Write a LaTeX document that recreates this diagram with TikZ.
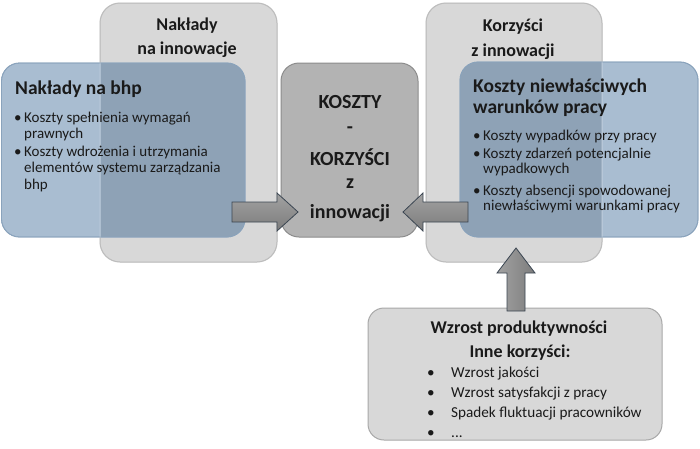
\documentclass[tikz,border=0pt]{standalone}
\usepackage{fontspec}
\setmainfont{Carlito}
\usetikzlibrary{calc}
\definecolor{boxgray}{HTML}{D8D8D8}
\definecolor{boxgrayline}{HTML}{A8A8A8}
\definecolor{midgray}{HTML}{B3B3B3}
\definecolor{midgrayline}{HTML}{8C8C8C}
\definecolor{blueA}{HTML}{A9BDD1}
\definecolor{blueB}{HTML}{8EA2B6}
\definecolor{blueline}{HTML}{8AA3BC}
\definecolor{arrowtop}{HTML}{A2A2A2}
\definecolor{arrowbot}{HTML}{7C7C7C}
\definecolor{arrowline}{HTML}{3B4652}
\definecolor{txt}{HTML}{1A1A1A}
\begin{document}
\begin{tikzpicture}[x=1pt,y=-1pt,
  graybox/.style={fill=boxgray,draw=boxgrayline,line width=1pt,rounded corners=20pt,inner sep=0pt},
  midbox/.style={fill=midgray,draw=midgrayline,line width=1pt,rounded corners=18pt,inner sep=0pt},
  bluebox/.style={fill=blueA,draw=blueline,line width=0.8pt,rounded corners=18pt,inner sep=0pt},
  blockarrow/.style={top color=arrowtop,bottom color=arrowbot,draw=arrowline,line width=0.8pt,line join=miter},
  hdtext/.style={inner sep=0pt,anchor=base,text=txt,font=\fontsize{18}{22}\selectfont\bfseries},
  titletext/.style={inner sep=0pt,anchor=base west,text=txt,font=\fontsize{19.5}{23}\selectfont\bfseries},
  centertext/.style={inner sep=0pt,anchor=base,text=txt,font=\fontsize{20}{24}\selectfont\bfseries},
  itemtext/.style={inner sep=0pt,anchor=base west,text=txt,font=\fontsize{15}{18}\selectfont},
  bottomtext/.style={inner sep=0pt,anchor=base west,text=txt,font=\fontsize{15.2}{18}\selectfont},
]
\useasboundingbox (0,0) rectangle (700,448);
\fill[white] (0,0) rectangle (700,448);

% gray background boxes
\node[graybox,minimum width=177pt,minimum height=259pt] (gl) at (188.5,132.5) {};
\node[graybox,minimum width=176pt,minimum height=259pt] (gr) at (514,132.5) {};

% blue boxes
\node[bluebox,minimum width=243.5pt,minimum height=174pt] (bl) at (123.25,150) {};
\node[bluebox,minimum width=238pt,minimum height=175pt] (br) at (579,149.5) {};
\begin{scope}
  \clip (100.5,0) rectangle (276.5,448);
  \fill[blueB,rounded corners=18pt] (1.5,63) rectangle (245,237);
\end{scope}
\begin{scope}
  \clip (426.5,0) rectangle (601.5,448);
  \fill[blueB,rounded corners=18pt] (460,62) rectangle (698,237);
\end{scope}
\draw[blueline,line width=0.8pt,rounded corners=18pt] (1.5,63) rectangle (245,237);
\draw[blueline,line width=0.8pt,rounded corners=18pt] (460,62) rectangle (698,237);
\draw[white,opacity=0.25,line width=1pt,rounded corners=20pt] (100,3) rectangle (277,262);
\draw[white,opacity=0.25,line width=1pt,rounded corners=20pt] (426,3) rectangle (602,262);

% center box
\node[midbox,minimum width=137pt,minimum height=174pt] (c) at (349.5,150) {};

% bottom box
\node[graybox,rounded corners=16pt,minimum width=294pt,minimum height=132pt] (b) at (515,374) {};

% block arrows
\coordinate (la) at (232,212);
\coordinate (ra) at (468,212);
\coordinate (ua) at (516,311);
\draw[blockarrow] ($(la)+(0,-10)$) -- ++(45,0) -- ++(0,-9) -- ++(21,19) -- ++(-21,19) -- ++(0,-9) -- ++(-45,0) -- cycle;
\draw[blockarrow] ($(ra)+(0,-10)$) -- ++(-45,0) -- ++(0,-9) -- ++(-20,19) -- ++(20,19) -- ++(0,-9) -- ++(45,0) -- cycle;
\draw[blockarrow,left color=arrowtop,right color=arrowbot] ($(ua)+(-9,0)$) -- ++(0,-38) -- ++(-10,0) -- ++(19,-25) -- ++(19,25) -- ++(-10,0) -- ++(0,38) -- cycle;

% header texts
\node[hdtext] (h1) at (187,30) {Nakłady};
\node[hdtext] (h2) at (187,54) {na innowacje};
\node[hdtext] (h3) at (513,31) {Korzyści};
\node[hdtext] (h4) at (513,56) {z innowacji};

% left blue box
\node[titletext] (lt0) at (15,94) {Nakłady na bhp};
\node[itemtext] (lb1) at (14,122) {•};
\node[itemtext] (lt1) at (24,122) {Koszty spełnienia wymagań};
\node[itemtext] (lt2) at (24,138.5) {prawnych};
\node[itemtext] (lb2) at (14,156) {•};
\node[itemtext] (lt3) at (24,156) {Koszty wdrożenia i utrzymania};
\node[itemtext] (lt4) at (24,172.5) {elementów systemu zarządzania};
\node[itemtext] (lt5) at (24,189) {bhp};

% right blue box
\node[titletext] (rt0) at (473,92) {Koszty niewłaściwych};
\node[titletext] (rt1) at (473,113) {warunków pracy};
\node[itemtext] (rb1) at (473,140) {•};
\node[itemtext] (rt2) at (483,140) {Koszty wypadków przy pracy};
\node[itemtext] (rb2) at (473,158) {•};
\node[itemtext] (rt3) at (483,158) {Koszty zdarzeń potencjalnie};
\node[itemtext] (rt4) at (483,173.5) {wypadkowych};
\node[itemtext] (rb3) at (473,195) {•};
\node[itemtext] (rt5) at (483,195) {Koszty absencji spowodowanej};
\node[itemtext] (rt6) at (483,210.5) {niewłaściwymi warunkami pracy};

% center texts
\node[centertext] (c1) at (350,108) {KOSZTY};
\node[centertext] (c2) at (350,133) {-};
\node[centertext] (c3) at (350,165) {KORZYŚCI};
\node[centertext] (c4) at (350,188) {z};
\node[centertext] (c5) at (350,218) {innowacji};

% bottom texts
\node[hdtext] (bt1) at (519,333) {Wzrost produktywności};
\node[hdtext] (bt2) at (520,357) {Inne korzyści:};
\node[bottomtext] (bb1) at (427,377) {•};
\node[bottomtext] (bi1) at (451,377) {Wzrost jakości};
\node[bottomtext] (bb2) at (427,397) {•};
\node[bottomtext] (bi2) at (451,397) {Wzrost satysfakcji z pracy};
\node[bottomtext] (bb3) at (427,417) {•};
\node[bottomtext] (bi3) at (451,417) {Spadek fluktuacji pracowników};
\node[bottomtext] (bb4) at (427,437) {•};
\node[bottomtext] (bi4) at (451,437) {...};
\end{tikzpicture}
\end{document}
